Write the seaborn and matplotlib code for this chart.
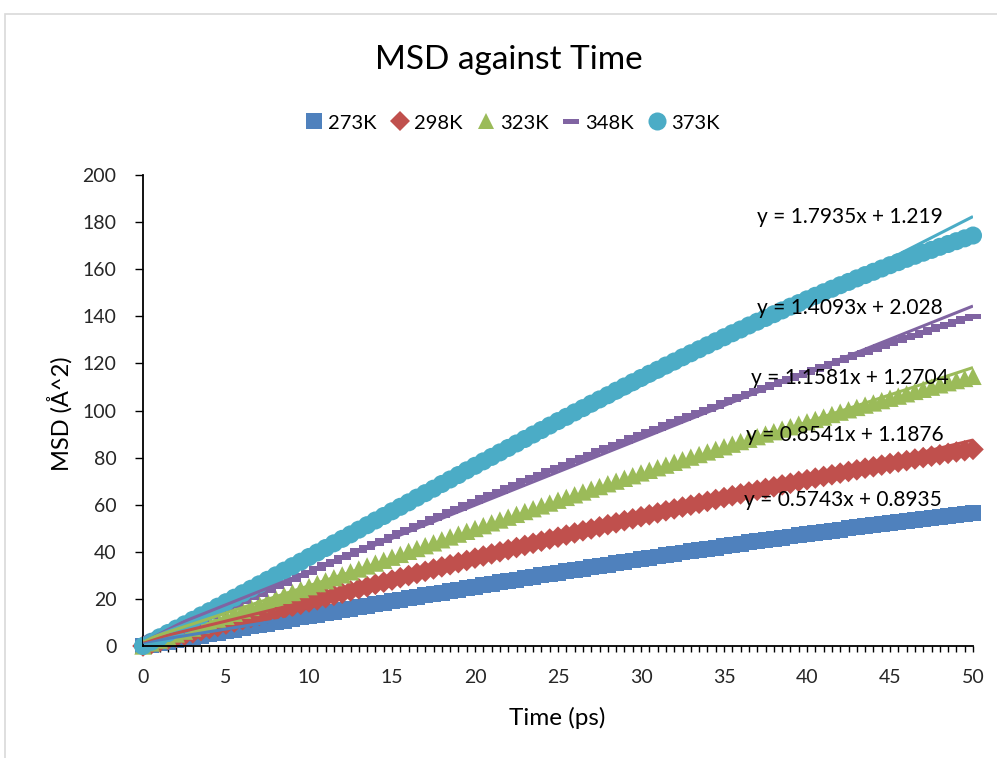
import numpy as np
import pandas as pd
import matplotlib
matplotlib.use("Agg")
import matplotlib.pyplot as plt
import seaborn as sns
from matplotlib.path import Path
from matplotlib.lines import Line2D
from matplotlib.patches import Rectangle

# ---------------- data ----------------
series_names = ["273K", "298K", "323K", "348K", "373K"]
time_ps = np.arange(0, 50.01, 0.5)  # category positions 0, 0.5, ..., 50

msd_273 = [0, 0.6, 1.3, 1.9, 2.5, 3.2, 3.8, 4.4, 5.1, 5.7,
           6.4, 7.0, 7.6, 8.3, 8.9, 9.5, 10.2, 10.8, 11.4, 12.1,
           12.7, 13.3, 14.0, 14.6, 15.2, 15.9, 16.5, 17.1, 17.7, 18.4,
           19.0, 19.6, 20.2, 20.9, 21.5, 22.1, 22.7, 23.3, 23.9, 24.6,
           25.2, 25.8, 26.4, 27.0, 27.6, 28.2, 28.8, 29.4, 30.0, 30.6,
           31.2, 31.7, 32.3, 32.9, 33.5, 34.1, 34.6, 35.2, 35.8, 36.3,
           36.9, 37.5, 38.0, 38.6, 39.1, 39.7, 40.2, 40.8, 41.3, 41.8,
           42.4, 42.9, 43.4, 44.0, 44.5, 45.0, 45.5, 46.0, 46.5, 47.0,
           47.5, 48.0, 48.5, 49.0, 49.4, 49.9, 50.4, 50.9, 51.3, 51.8,
           52.2, 52.7, 53.1, 53.6, 54.0, 54.4, 54.9, 55.3, 55.7, 56.1,
           56.5]
msd_298 = [0, 0.9, 1.8, 2.8, 3.7, 4.6, 5.6, 6.5, 7.4, 8.3,
           9.3, 10.2, 11.2, 12.1, 13.0, 14.0, 14.9, 15.8, 16.8, 17.7,
           18.7, 19.6, 20.5, 21.5, 22.4, 23.4, 24.3, 25.2, 26.2, 27.1,
           28.0, 29.0, 29.9, 30.8, 31.7, 32.7, 33.6, 34.5, 35.4, 36.3,
           37.3, 38.2, 39.1, 40.0, 40.9, 41.8, 42.7, 43.6, 44.5, 45.4,
           46.2, 47.1, 48.0, 48.9, 49.7, 50.6, 51.5, 52.3, 53.2, 54.0,
           54.9, 55.7, 56.5, 57.4, 58.2, 59.0, 59.8, 60.6, 61.4, 62.2,
           63.0, 63.8, 64.6, 65.4, 66.1, 66.9, 67.6, 68.4, 69.1, 69.9,
           70.6, 71.3, 72.0, 72.7, 73.4, 74.1, 74.8, 75.5, 76.1, 76.8,
           77.5, 78.1, 78.7, 79.4, 80.0, 80.6, 81.2, 81.8, 82.4, 82.9,
           83.5]
msd_323 = [0, 1.3, 2.5, 3.8, 5.1, 6.3, 7.6, 8.9, 10.1, 11.4,
           12.6, 13.9, 15.2, 16.4, 17.7, 18.9, 20.2, 21.5, 22.7, 24.0,
           25.2, 26.5, 27.7, 29.0, 30.2, 31.5, 32.7, 34.0, 35.2, 36.4,
           37.7, 38.9, 40.2, 41.4, 42.6, 43.8, 45.1, 46.3, 47.5, 48.7,
           49.9, 51.1, 52.3, 53.5, 54.7, 55.9, 57.1, 58.3, 59.5, 60.7,
           61.9, 63.1, 64.2, 65.4, 66.6, 67.7, 68.9, 70.0, 71.2, 72.3,
           73.5, 74.6, 75.7, 76.8, 78.0, 79.1, 80.2, 81.3, 82.4, 83.5,
           84.6, 85.7, 86.8, 87.8, 88.9, 90.0, 91.0, 92.1, 93.1, 94.2,
           95.2, 96.2, 97.2, 98.3, 99.3, 100.3, 101.3, 102.3, 103.2, 104.2,
           105.2, 106.1, 107.1, 108.1, 109.0, 109.9, 110.9, 111.8, 112.7, 113.6,
           114.5]
msd_348 = [0, 1.6, 3.2, 4.8, 6.3, 7.9, 9.5, 11.1, 12.7, 14.2,
           15.8, 17.4, 18.9, 20.5, 22.0, 23.6, 25.1, 26.7, 28.2, 29.8,
           31.3, 32.9, 34.4, 35.9, 37.4, 39.0, 40.5, 42.0, 43.5, 45.0,
           46.5, 48.0, 49.5, 51.0, 52.5, 54.0, 55.5, 57.0, 58.4, 59.9,
           61.4, 62.9, 64.3, 65.8, 67.2, 68.7, 70.1, 71.5, 73.0, 74.4,
           75.8, 77.2, 78.7, 80.1, 81.5, 82.9, 84.3, 85.7, 87.0, 88.4,
           89.8, 91.2, 92.5, 93.9, 95.3, 96.6, 98.0, 99.3, 100.6, 101.9,
           103.3, 104.6, 105.9, 107.2, 108.5, 109.8, 111.1, 112.4, 113.6, 114.9,
           116.2, 117.4, 118.7, 119.9, 121.2, 122.4, 123.6, 124.8, 126.1, 127.3,
           128.5, 129.7, 130.8, 132.0, 133.2, 134.4, 135.5, 136.7, 137.8, 139.0,
           140.1]
msd_373 = [0, 1.8, 3.7, 5.5, 7.4, 9.2, 11.1, 13.0, 14.8, 16.7,
           18.6, 20.5, 22.4, 24.3, 26.2, 28.1, 30.0, 32.0, 33.9, 35.8,
           37.8, 39.7, 41.6, 43.6, 45.5, 47.4, 49.4, 51.3, 53.3, 55.2,
           57.2, 59.1, 61.0, 63.0, 64.9, 66.8, 68.8, 70.7, 72.6, 74.6,
           76.5, 78.4, 80.3, 82.2, 84.1, 86.0, 87.9, 89.8, 91.7, 93.6,
           95.5, 97.3, 99.2, 101.0, 102.9, 104.7, 106.5, 108.4, 110.2, 112.0,
           113.8, 115.6, 117.3, 119.1, 120.8, 122.6, 124.3, 126.0, 127.7, 129.4,
           131.1, 132.8, 134.4, 136.1, 137.7, 139.3, 140.9, 142.5, 144.1, 145.6,
           147.2, 148.7, 150.2, 151.7, 153.2, 154.6, 156.1, 157.5, 158.9, 160.3,
           161.7, 163.0, 164.4, 165.7, 167.0, 168.2, 169.5, 170.7, 171.9, 173.1,
           174.3]

# Excel linear trendlines (x = point index 1..101)
trend_slope = [0.5743, 0.8541, 1.1581, 1.4093, 1.7935]
trend_intercept = [0.8935, 1.1876, 1.2704, 2.028, 1.219]
trend_labels = ["y = 0.5743x + 0.8935", "y = 0.8541x + 1.1876",
                "y = 1.1581x + 1.2704", "y = 1.4093x + 2.028",
                "y = 1.7935x + 1.219"]
label_pos_t = [36.2, 36.3, 36.6, 37.0, 37.0]
label_pos_y = [62.0, 89.6, 113.8, 143.5, 182.2]

x_ticks = [0, 5, 10, 15, 20, 25, 30, 35, 40, 45, 50]
y_ticks = [0, 20, 40, 60, 80, 100, 120, 140, 160, 180, 200]

# ---------------- style ----------------
colors = {"273K": "#4F81BD", "298K": "#C0504D", "323K": "#9BBB59",
          "348K": "#8064A2", "373K": "#4BACC6"}
dash = Path([(-1, -0.3), (1, -0.3), (1, 0.3), (-1, 0.3), (-1, -0.3)],
            [Path.MOVETO, Path.LINETO, Path.LINETO, Path.LINETO, Path.CLOSEPOLY])
markers = {"273K": "s", "298K": "D", "323K": "^", "348K": dash, "373K": "o"}
marker_pt = {"273K": 11.5, "298K": 11.0, "323K": 12.5, "348K": 12.0, "373K": 13.0}

sns.set_theme(style="white")
plt.rcParams["font.family"] = ["Lato", "DejaVu Sans"]
plt.rcParams["text.color"] = "black"

frames = []
for name, vals in zip(series_names,
                      [msd_273, msd_298, msd_323, msd_348, msd_373]):
    frames.append(pd.DataFrame({"time": time_ps, "msd": vals, "series": name}))
df = pd.concat(frames, ignore_index=True)

W, H = 997, 758
fig = plt.figure(figsize=(W / 100, H / 100), dpi=100)
fig.patch.set_facecolor("white")

x0, x1 = 143, 973
y0, y1 = 646, 175
ax = fig.add_axes([x0 / W, 1 - y0 / H, (x1 - x0) / W, (y0 - y1) / H])

sns.scatterplot(data=df, x="time", y="msd", hue="series", style="series",
                size="series", hue_order=series_names, style_order=series_names,
                size_order=series_names, palette=colors, markers=markers,
                sizes={k: v ** 2 for k, v in marker_pt.items()},
                linewidth=0, edgecolor="none", legend=False, ax=ax, zorder=2)
for c in ax.collections:
    c.set_clip_on(False)

for name, m, c in zip(series_names, trend_slope, trend_intercept):
    tt = np.array([time_ps[0], time_ps[-1]])
    idx = 2 * tt + 1
    ax.plot(tt, m * idx + c, color=colors[name], lw=2.2, zorder=3,
            solid_capstyle="butt")

for lbl, tx, ty in zip(trend_labels, label_pos_t, label_pos_y):
    ax.text(tx, ty, lbl, ha="left", va="center", fontsize=15, color="black",
            zorder=5)

ax.set_xlim(0, 50)
ax.set_ylim(0, 200)
ax.set_xticks(x_ticks)
ax.set_xticks(time_ps, minor=True)
ax.set_yticks(y_ticks)
ax.set_xticklabels([str(v) for v in x_ticks])
ax.set_yticklabels([str(v) for v in y_ticks])
for s in ["top", "right"]:
    ax.spines[s].set_visible(False)
for s in ["left", "bottom"]:
    ax.spines[s].set_color("black")
    ax.spines[s].set_linewidth(1.3)
ax.tick_params(axis="x", which="both", direction="out", length=4.5, width=1,
               color="black", bottom=True, labelsize=14, pad=12)
ax.tick_params(axis="y", which="major", direction="out", length=6, width=1,
               color="black", left=True, labelsize=14, pad=13)
ax.set_xlabel("")
ax.set_ylabel("")
ax.grid(False)
ax.set_facecolor("none")

fig.text(557 / W, 1 - 718 / H, "Time (ps)", ha="center", va="center", fontsize=17.5)
fig.text(60 / W, 1 - 414 / H, "MSD (Å^2)", ha="center", va="center",
         fontsize=17, rotation=90)
fig.text(509 / W, 1 - 60 / H, "MSD against Time", ha="center", va="center",
         fontsize=24)

handles = []
leg_sizes = {"273K": 11, "298K": 10, "323K": 12, "348K": 12, "373K": 13}
for name in series_names:
    handles.append(Line2D([0], [0], linestyle="none", marker=markers[name],
                          markersize=leg_sizes[name], color=colors[name],
                          markeredgewidth=0, label=name))
fig.legend(handles=handles, loc="center", bbox_to_anchor=(513 / W, 1 - 123 / H),
           ncol=5, frameon=False, fontsize=14.5, handlelength=0.8,
           handletextpad=0.3, columnspacing=0.75, borderaxespad=0)

fig.patches.append(Rectangle((5 / W, -0.05), 1.2, (1 - 14 / H) + 0.05,
                             transform=fig.transFigure, fill=False,
                             edgecolor="#D9D9D9", lw=1.2, zorder=0))

fig.savefig("out.png", dpi=100, facecolor="white")
